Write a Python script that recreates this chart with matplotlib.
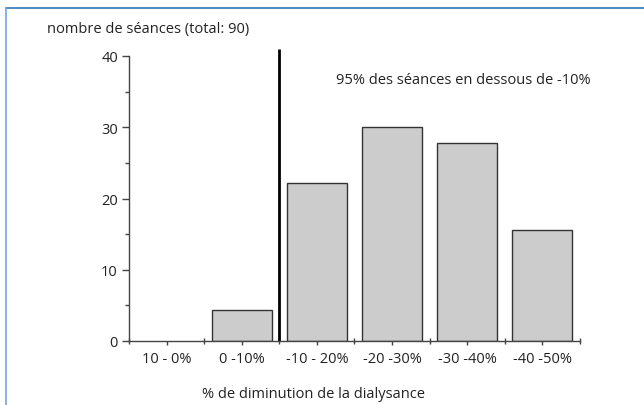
import numpy as np
import matplotlib.pyplot as plt
from matplotlib.lines import Line2D

# données : % des séances par classe de diminution de la dialysance
categories = ['10 - 0%', '0 -10%', '-10 - 20%', '-20 -30%', '-30 -40%', '-40 -50%']
pourcentages = [0, 4.4, 22.2, 30.0, 27.8, 15.6]
seuil_position = 1.5   # ligne verticale entre "0 -10%" et "-10 - 20%"
seuil_hauteur = 41

plt.rcParams['font.family'] = ['Open Sans', 'DejaVu Sans']
fs = 10.5

fig = plt.figure(figsize=(6.44, 4.06), dpi=100)
ax = fig.add_axes([129/644, 1 - 342/406, 451/644, 285/406])

x = np.arange(len(categories))
ax.bar(x[1:], pourcentages[1:], width=0.8, color='#cccccc',
       edgecolor='#333333', linewidth=1.0)

ax.plot([seuil_position, seuil_position], [0, seuil_hauteur],
        color='black', linewidth=2, clip_on=False, solid_capstyle='butt')

ax.set_xlim(-0.5, len(categories) - 0.5)
ax.set_ylim(0, 40)
ax.set_yticks([0, 10, 20, 30, 40])
ax.set_yticks([5, 15, 25, 35], minor=True)
ax.set_xticks(x)
ax.set_xticklabels(categories)
ax.set_xticks(np.arange(-0.5, len(categories)), minor=True)

for s in ['top', 'right']:
    ax.spines[s].set_visible(False)
for s in ['left', 'bottom']:
    ax.spines[s].set_color('#444444')
    ax.spines[s].set_linewidth(1.0)

ax.tick_params(axis='y', which='major', length=5, width=1, color='#444444',
               labelsize=fs, labelcolor='#222222', pad=3)
ax.tick_params(axis='y', which='minor', length=3, width=1, color='#444444')
ax.tick_params(axis='x', which='major', length=3, width=1, color='#444444',
               labelsize=fs, labelcolor='#222222', pad=4)
ax.tick_params(axis='x', which='minor', direction='inout', length=5, width=1,
               color='#444444')

fig.text(313/644, 1 - 395/406, '% de diminution de la dialysance', fontsize=fs,
         color='#222222', ha='center', va='center')
fig.text(47/644, 1 - 30/406, 'nombre de séances (total: 90)', fontsize=fs,
         color='#222222', va='center', ha='left')
ax.text(3.95, 36.7, '95% des séances en dessous de -10%', fontsize=fs,
        color='#222222', ha='center', va='center')

# cadre bleu (haut et gauche)
fig.add_artist(Line2D([5.5/644, 1], [1 - 9/406, 1 - 9/406], color='#2e75b6',
                      linewidth=1.2, transform=fig.transFigure))
fig.add_artist(Line2D([5.5/644, 5.5/644], [0, 1 - 9/406], color='#6fa8dc',
                      linewidth=1.2, transform=fig.transFigure))

fig.savefig('out.png', dpi=100)
